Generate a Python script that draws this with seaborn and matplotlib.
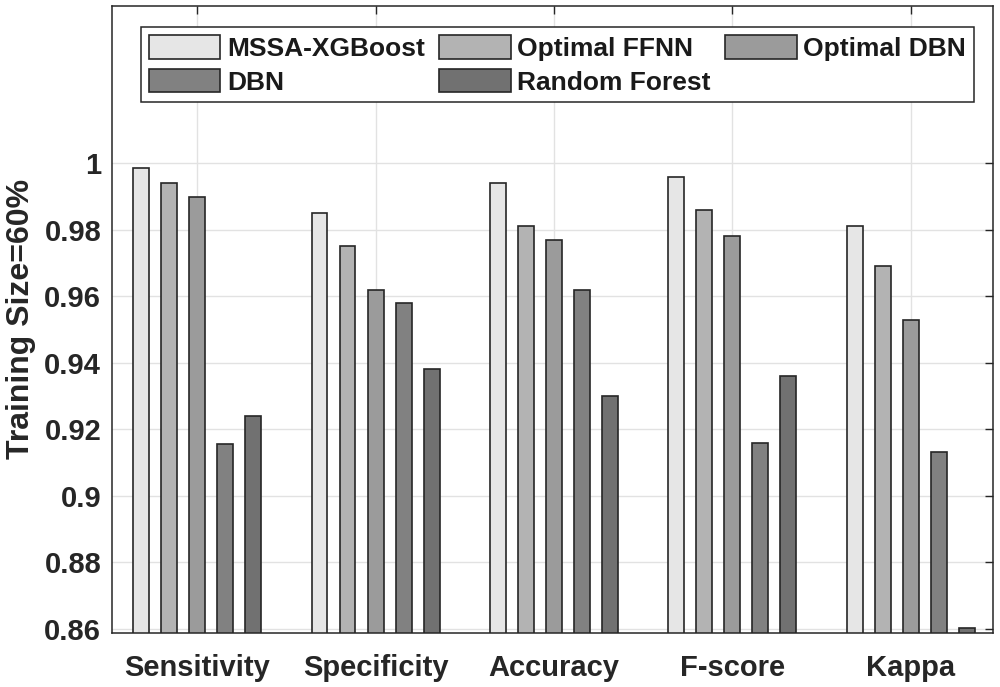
import numpy as np
import pandas as pd
import matplotlib
matplotlib.use("Agg")
import matplotlib.pyplot as plt
from matplotlib.ticker import FuncFormatter
import seaborn as sns

# DATA
metrics = ["Sensitivity", "Specificity", "Accuracy", "F-score", "Kappa"]
models  = ["MSSA-XGBoost", "Optimal FFNN", "Optimal DBN", "DBN", "Random Forest"]

mssa_xgb  = [0.9985, 0.985, 0.994, 0.996, 0.981]
opt_ffnn  = [0.994,  0.975, 0.981, 0.986, 0.969]
opt_dbn   = [0.990,  0.962, 0.977, 0.978, 0.953]
dbn       = [0.9155, 0.958, 0.962, 0.916, 0.9133]
rand_for  = [0.924,  0.938, 0.930, 0.936, 0.8603]

colors = ["#e6e6e6", "#b3b3b3", "#9b9b9b", "#818181", "#717171"]

df = pd.DataFrame({
    "metric": metrics * 5,
    "model":  np.repeat(models, len(metrics)),
    "value":  mssa_xgb + opt_ffnn + opt_dbn + dbn + rand_for,
})

sns.set_style("white")
plt.rcParams["font.family"] = ["Liberation Sans", "DejaVu Sans"]
plt.rcParams["font.weight"] = "bold"

fig = plt.figure(figsize=(10, 6.87), dpi=100)
ax = fig.add_axes([0.1123, 0.079, 0.993 - 0.1123, 0.9917 - 0.079])

sns.barplot(data=df, x="metric", y="value", hue="model", order=metrics,
            hue_order=models, palette=colors, width=0.785, gap=0.43,
            edgecolor="#262626", linewidth=1.2, saturation=1, ax=ax, legend=False)

ax.set_xlim(-0.475, 4.46)
ax.set_ylim(0.8588, 1.0474)
ax.set_yticks(np.arange(0.86, 1.001, 0.02))
ax.yaxis.set_major_formatter(FuncFormatter(lambda v, p: f"{v:g}"))

ax.grid(True, color="#e2e2e2", linewidth=1.0)
ax.set_axisbelow(True)
for s in ax.spines.values():
    s.set_color("#262626")
    s.set_linewidth(1.1)
    s.set_visible(True)
ax.tick_params(direction="in", length=6, width=1.0, color="#262626",
               top=True, right=True, labelsize=21, labelcolor="#262626")
ax.tick_params(axis="y", pad=8)
ax.tick_params(axis="x", pad=15)
for lbl in ax.get_xticklabels() + ax.get_yticklabels():
    lbl.set_fontweight("bold")

ax.set_xlabel("")
ax.set_ylabel("Training Size=60%", fontsize=23, fontweight="bold", color="#262626", labelpad=6)

# legend: row-major order like MATLAB
handles = [plt.Rectangle((0, 0), 1, 1, facecolor=c, edgecolor="#262626", linewidth=1.2) for c in colors]
order = [0, 3, 1, 4, 2]
leg = ax.legend([handles[i] for i in order], [models[i] for i in order], ncol=3,
                loc="upper center", bbox_to_anchor=(0.5575, 0.9607), bbox_transform=fig.transFigure,
                fontsize=19, handlelength=2.7, handleheight=1.0, handletextpad=0.25,
                columnspacing=0.55, labelspacing=0.3, borderpad=0.3, fancybox=False,
                framealpha=1, edgecolor="#262626", borderaxespad=0)
leg.get_frame().set_linewidth(1.1)
for t in leg.get_texts():
    t.set_fontweight("bold")
    t.set_color("#1a1a1a")

fig.savefig("out.png", dpi=100)
